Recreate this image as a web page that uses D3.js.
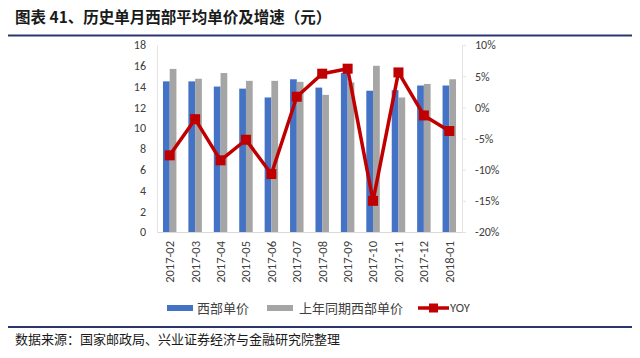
<!DOCTYPE html>
<html>
<head>
<meta charset="utf-8">
<script src="https://cdn.jsdelivr.net/npm/d3@7"></script>
<style>
  body { margin: 0; background: #fff; }
  text { font-family: Calibri, Carlito, "Liberation Sans", "Noto Sans", sans-serif; }
  .cjk { font-family: "Noto Sans CJK SC", sans-serif; }
</style>
</head>
<body>
<script>
let months = ['2017-02', '2017-03', '2017-04', '2017-05', '2017-06', '2017-07',
  '2017-08', '2017-09', '2017-10', '2017-11', '2017-12', '2018-01'];
let westPrice = [14.5, 14.5, 14.0, 13.8, 12.95, 14.7, 13.9, 15.3, 13.6, 13.65, 14.1, 14.1];
let lastYearPrice = [15.7, 14.75, 15.3, 14.55, 14.55, 14.45, 13.2, 14.4, 16.0, 12.95, 14.25, 14.7];
let yoy = [-7.7, -1.9, -8.5, -5.2, -10.7, 1.7, 5.4, 6.2, -15.0, 5.6, -1.3, -3.8];
let leftTicks = [0, 2, 4, 6, 8, 10, 12, 14, 16, 18];
let rightTicks = [-20, -15, -10, -5, 0, 5, 10];

let svgWidth = 640;
let svgHeight = 358;
let margins = { top: 45, right: 178, bottom: 126, left: 157 };
let chartWidth = svgWidth - margins.left - margins.right;
let chartHeight = svgHeight - margins.top - margins.bottom;

let blue = '#4472C4';
let gray = '#A5A5A5';
let red = '#C00000';
let navy = '#2B3670';

let svg = d3.select('body')
  .append('svg')
  .attr('width', svgWidth)
  .attr('height', svgHeight);

// title + rules
svg.append('text')
  .attr('class', 'cjk')
  .attr('x', 15)
  .attr('y', 23)
  .attr('font-size', '15.5px')
  .attr('font-weight', 'bold')
  .attr('fill', '#1a1a1a')
  .text('图表 41、历史单月西部平均单价及增速（元）');

svg.append('line')
  .attr('x1', 8).attr('x2', 632)
  .attr('y1', 35.5).attr('y2', 35.5)
  .attr('stroke', navy).attr('stroke-width', 2);

svg.append('line')
  .attr('x1', 8).attr('x2', 632)
  .attr('y1', 327).attr('y2', 327)
  .attr('stroke', navy).attr('stroke-width', 2);

svg.append('text')
  .attr('class', 'cjk')
  .attr('x', 15)
  .attr('y', 344)
  .attr('font-size', '13px')
  .attr('fill', '#1a1a1a')
  .text('数据来源：国家邮政局、兴业证券经济与金融研究院整理');

let chart = svg.append('g')
  .attr('transform', `translate(${margins.left}, ${margins.top})`);

let x = d3.scaleBand()
  .domain(months)
  .range([0, chartWidth])
  .paddingInner(0.47)
  .paddingOuter(0.235);

let xInner = d3.scaleBand()
  .domain(['a', 'b'])
  .range([0, x.bandwidth()]);

let yLeft = d3.scaleLinear().domain([0, 18]).range([chartHeight, 0]);
let yRight = d3.scaleLinear().domain([-20, 10]).range([chartHeight, 0]);

// axes
let leftAxis = d3.axisLeft(yLeft).tickValues(leftTicks).tickSize(0).tickPadding(11);
let rightAxis = d3.axisRight(yRight).tickValues(rightTicks)
  .tickFormat(d => d + '%').tickSize(4).tickPadding(9);
let bottomAxis = d3.axisBottom(x).tickSize(0).tickPadding(6);

let gl = chart.append('g').call(leftAxis);
gl.select('.domain').attr('stroke', '#e4e4e4');
gl.selectAll('text').attr('font-size', '12px').attr('fill', '#404040');

let gr = chart.append('g')
  .attr('transform', `translate(${chartWidth}, 0)`)
  .call(rightAxis);
gr.select('.domain').attr('stroke', '#e4e4e4');
gr.selectAll('line').attr('stroke', '#e4e4e4');
gr.selectAll('text').attr('font-size', '12px').attr('fill', '#404040');

let gb = chart.append('g')
  .attr('transform', `translate(0, ${chartHeight})`)
  .call(bottomAxis);
gb.select('.domain').attr('stroke', '#d9d9d9');
gb.selectAll('text')
  .attr('font-size', '12.5px')
  .attr('fill', '#404040')
  .attr('text-anchor', 'end')
  .attr('transform', 'rotate(-90)')
  .attr('x', -9)
  .attr('y', 0)
  .attr('dy', '0.35em');

// bars
let groups = chart.selectAll('.grp')
  .data(months)
  .enter()
  .append('g')
  .attr('class', 'grp')
  .attr('transform', d => `translate(${x(d)}, 0)`);

groups.append('rect')
  .attr('x', xInner('a'))
  .attr('width', xInner.bandwidth())
  .attr('y', (d, i) => yLeft(westPrice[i]))
  .attr('height', (d, i) => chartHeight - yLeft(westPrice[i]))
  .attr('fill', blue);

groups.append('rect')
  .attr('x', xInner('b'))
  .attr('width', xInner.bandwidth())
  .attr('y', (d, i) => yLeft(lastYearPrice[i]))
  .attr('height', (d, i) => chartHeight - yLeft(lastYearPrice[i]))
  .attr('fill', gray);

// yoy line
let cx = d => x(d) + x.bandwidth() / 2;
let line = d3.line()
  .x((d, i) => cx(months[i]))
  .y(d => yRight(d));

chart.append('path')
  .datum(yoy)
  .attr('d', line)
  .attr('fill', 'none')
  .attr('stroke', red)
  .attr('stroke-width', 3.5)
  .attr('stroke-linejoin', 'round');

chart.selectAll('.pt')
  .data(yoy)
  .enter()
  .append('rect')
  .attr('class', 'pt')
  .attr('x', (d, i) => cx(months[i]) - 5)
  .attr('y', d => yRight(d) - 5)
  .attr('width', 10)
  .attr('height', 10)
  .attr('fill', red);

// legend
let legend = svg.append('g').attr('transform', 'translate(0, 308)');
legend.append('rect').attr('x', 167).attr('y', -3).attr('width', 26).attr('height', 6).attr('fill', blue);
legend.append('text').attr('class', 'cjk').attr('x', 197).attr('y', 0).attr('dy', '0.35em')
  .attr('font-size', '13px').attr('fill', '#404040').text('西部单价');
legend.append('rect').attr('x', 267).attr('y', -3).attr('width', 26).attr('height', 6).attr('fill', gray);
legend.append('text').attr('class', 'cjk').attr('x', 299).attr('y', 0).attr('dy', '0.35em')
  .attr('font-size', '13px').attr('fill', '#404040').text('上年同期西部单价');
legend.append('line').attr('x1', 418).attr('x2', 449).attr('y1', 0).attr('y2', 0)
  .attr('stroke', red).attr('stroke-width', 3.5);
legend.append('rect').attr('x', 429).attr('y', -4.5).attr('width', 9).attr('height', 9).attr('fill', red);
legend.append('text').attr('x', 450).attr('y', 0).attr('dy', '0.35em')
  .attr('font-size', '12.5px').attr('fill', '#404040').text('YOY');
</script>
</body>
</html>
